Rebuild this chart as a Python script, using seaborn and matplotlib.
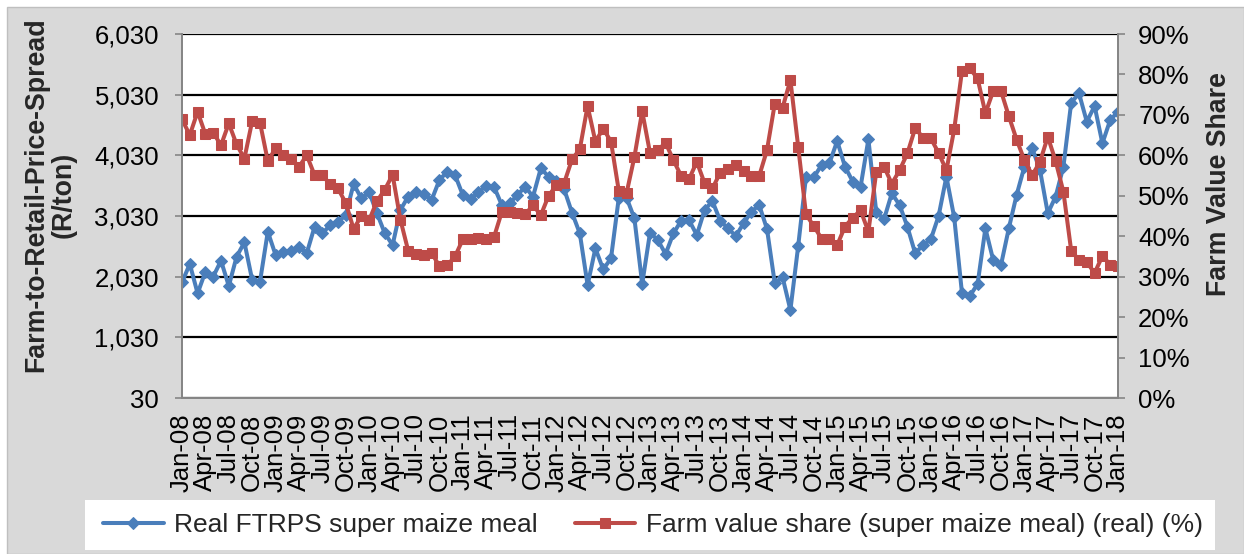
import numpy as np
import pandas as pd
import matplotlib
matplotlib.use("Agg")
import matplotlib.pyplot as plt
import seaborn as sns
from matplotlib.patches import Rectangle
from matplotlib.ticker import FuncFormatter, FixedLocator

# ---------------- data ----------------
months = pd.date_range("2008-01-01", periods=121, freq="MS").strftime("%b-%y").tolist()

ftrps = [1937, 2240, 1755, 2112, 2030, 2294, 1876, 2359, 2596, 1975,
         1948, 2771, 2387, 2440, 2460, 2520, 2420, 2854, 2744, 2881,
         2925, 3050, 3557, 3321, 3420, 3074, 2744, 2552, 3130, 3350,
         3420, 3393, 3293, 3623, 3761, 3706, 3376, 3310, 3420, 3530,
         3513, 3211, 3238, 3376, 3513, 3348, 3816, 3678, 3612, 3469,
         3085, 2744, 1892, 2497, 2150, 2332, 3330, 3330, 2991, 1910,
         2755, 2634, 2403, 2744, 2952, 2963, 2716, 3129, 3277, 2952,
         2826, 2700, 2909, 3101, 3211, 2815, 1920, 2019, 1480, 2536,
         3678, 3668, 3871, 3898, 4266, 3843, 3596, 3513, 4294, 3101,
         2975, 3403, 3211, 2854, 2414, 2552, 2645, 3030, 3678, 3008,
         1755, 1711, 1909, 2826, 2304, 2222, 2826, 3376, 3843, 4145,
         3788, 3074, 3348, 3843, 4898, 5052, 4585, 4843, 4228, 4612,
         4750]

share = [68.9, 65.0, 70.8, 65.2, 65.6, 62.5, 67.9, 62.7, 59.2, 68.5,
         68.1, 58.6, 61.7, 60.0, 59.2, 57.2, 60.0, 55.1, 55.1, 52.8,
         51.8, 48.2, 41.8, 45.0, 44.0, 48.7, 51.5, 55.2, 44.1, 36.4,
         35.5, 35.3, 35.9, 32.6, 32.8, 35.0, 39.2, 39.2, 39.6, 39.4,
         39.8, 46.0, 46.0, 45.8, 45.4, 47.7, 45.2, 50.0, 52.6, 53.2,
         59.0, 61.5, 72.2, 63.4, 66.6, 63.4, 51.2, 50.7, 59.6, 70.9,
         60.6, 61.3, 63.1, 58.8, 54.9, 54.1, 58.4, 53.1, 51.8, 55.7,
         56.5, 57.7, 56.1, 54.9, 54.9, 61.3, 72.8, 71.8, 78.6, 62.1,
         45.4, 42.5, 39.4, 39.2, 37.8, 42.4, 44.6, 46.4, 41.1, 55.8,
         57.2, 53.0, 56.3, 60.5, 66.7, 64.4, 64.2, 60.6, 56.3, 66.4,
         80.9, 81.5, 79.0, 70.4, 75.9, 75.9, 69.7, 63.9, 58.8, 55.1,
         58.4, 64.6, 58.6, 51.0, 36.4, 34.1, 33.6, 30.9, 35.1, 33.0,
         32.6]

left_ticks = [30, 1030, 2030, 3030, 4030, 5030, 6030]
right_ticks = [0, 10, 20, 30, 40, 50, 60, 70, 80, 90]

label_ftrps = "Real FTRPS super maize meal"
label_share = "Farm value share (super maize meal) (real) (%)"

# ---------------- style ----------------
sns.set_style("white")
plt.rcParams["font.family"] = ["Liberation Sans", "DejaVu Sans"]

BLUE = "#4A7EBB"
RED = "#BE4B48"
GRAY = "#868686"
BG = "#D9D9D9"
TICK_FS = 18.5

df = pd.DataFrame({"idx": np.arange(len(months)), "month": months,
                   "ftrps": ftrps, "share": share})

W, H = 1244, 554
fig = plt.figure(figsize=(W / 100, H / 100), dpi=100)
fig.patch.set_facecolor("white")
fig.patches.append(Rectangle((7 / W, 0), 1 - 7 / W, 1 - 7 / H, transform=fig.transFigure,
                             facecolor=BG, edgecolor="#BFBFBF", linewidth=1, zorder=-10))

ax = fig.add_axes([182 / W, 1 - 398 / H, (1118 - 182) / W, (398 - 34) / H])
ax.set_facecolor("white")
ax2 = ax.twinx()

sns.lineplot(data=df, x="idx", y="ftrps", ax=ax, color=BLUE, linewidth=2.9,
             marker="D", markersize=6.5, markeredgecolor=BLUE, markerfacecolor=BLUE,
             label=label_ftrps, legend=False)
sns.lineplot(data=df, x="idx", y="share", ax=ax2, color=RED, linewidth=2.9,
             marker="s", markersize=7.5, markeredgecolor=RED, markerfacecolor=RED,
             label=label_share, legend=False)

# left axis
ax.set_ylim(30, 6030)
ax.yaxis.set_major_locator(FixedLocator(left_ticks))
ax.yaxis.set_major_formatter(FuncFormatter(lambda v, p: f"{int(v):,}"))
ax.grid(axis="y", color="black", linewidth=1.6)
ax.grid(axis="x", visible=False)
ax.set_axisbelow(True)

# x axis
ax.set_xlim(0, len(months) - 1)
xt = list(range(0, len(months), 3))
ax.set_xticks(xt)
ax.set_xticklabels([months[i] for i in xt], rotation=90)
ax.set_xlabel("")
ax.set_ylabel("")

# right axis
ax2.set_ylim(0, 90)
ax2.yaxis.set_major_locator(FixedLocator(right_ticks))
ax2.yaxis.set_major_formatter(FuncFormatter(lambda v, p: f"{int(round(v))}%"))
ax2.set_ylabel("")
ax2.grid(False)

for a in (ax, ax2):
    for s in a.spines.values():
        s.set_color(GRAY)
        s.set_linewidth(1.3)
    a.spines["top"].set_visible(False)
    a.tick_params(axis="both", which="major", direction="out", length=5, width=1.2,
                  color=GRAY, labelsize=TICK_FS, labelcolor="black")
ax.tick_params(axis="y", pad=11.5)
ax2.tick_params(axis="y", pad=9.5)
ax.tick_params(axis="x", pad=6)

# axis titles
fig.text(50 / W, 1 - 195 / H, "Farm-to-Retail-Price-Spread\n(R/ton)", rotation=90,
         ha="center", va="center", fontsize=19.3, fontweight="bold", linespacing=1.1)
fig.text(1219 / W, 1 - 184 / H, "Farm Value Share", rotation=90,
         ha="center", va="center", fontsize=19.3, fontweight="bold")

# legend box
fig.patches.append(Rectangle((85 / W, 1 - 550 / H), (1215 - 85) / W, 50 / H,
                             transform=fig.transFigure, facecolor="white",
                             edgecolor="none", zorder=-5))
h1, l1 = ax.get_legend_handles_labels()
h2, l2 = ax2.get_legend_handles_labels()
fig.legend(h1 + h2, l1 + l2, loc="center", bbox_to_anchor=(653 / W, 1 - 525 / H),
           ncol=2, frameon=False, fontsize=19, handlelength=2.3, handletextpad=0.4,
           columnspacing=1.4)

fig.savefig("out.png", dpi=100, facecolor=fig.get_facecolor())
